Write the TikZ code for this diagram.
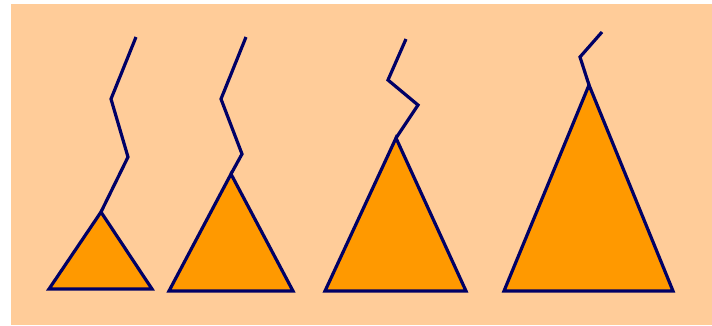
\documentclass[tikz,border=0pt]{standalone}
\definecolor{peach}{HTML}{FFCC99}
\definecolor{tri}{HTML}{FF9900}
\definecolor{navy}{HTML}{000066}
\begin{document}
\begin{tikzpicture}[x=1pt,y=-1pt,
  trishape/.style={draw=navy,line width=3.2pt,fill=tri,line join=miter},
  zig/.style={draw=navy,line width=3.2pt,line join=miter}]
\useasboundingbox (0,0) rectangle (712,325);
\fill[peach] (11,4) rectangle (712,325);
% figure 1
\coordinate (a1) at (101,212);
\draw[zig] (a1) -- (128,157) -- (111,99) -- (136,37);
\draw[trishape] (a1) -- (152,289) -- (49,289) -- cycle;
% figure 2
\coordinate (a2) at (231,174);
\draw[zig] (a2) -- (242,154) -- (221,99) -- (246,37);
\draw[trishape] (a2) -- (293,291) -- (169,291) -- cycle;
% figure 3
\coordinate (a3) at (396,138);
\draw[zig] (a3) -- (418,105) -- (388,80) -- (406,39);
\draw[trishape] (a3) -- (466,291) -- (325,291) -- cycle;
% figure 4
\coordinate (a4) at (589,85);
\draw[zig] (a4) -- (580,57) -- (602,32);
\draw[trishape] (a4) -- (673,291) -- (504,291) -- cycle;
\end{tikzpicture}
\end{document}
